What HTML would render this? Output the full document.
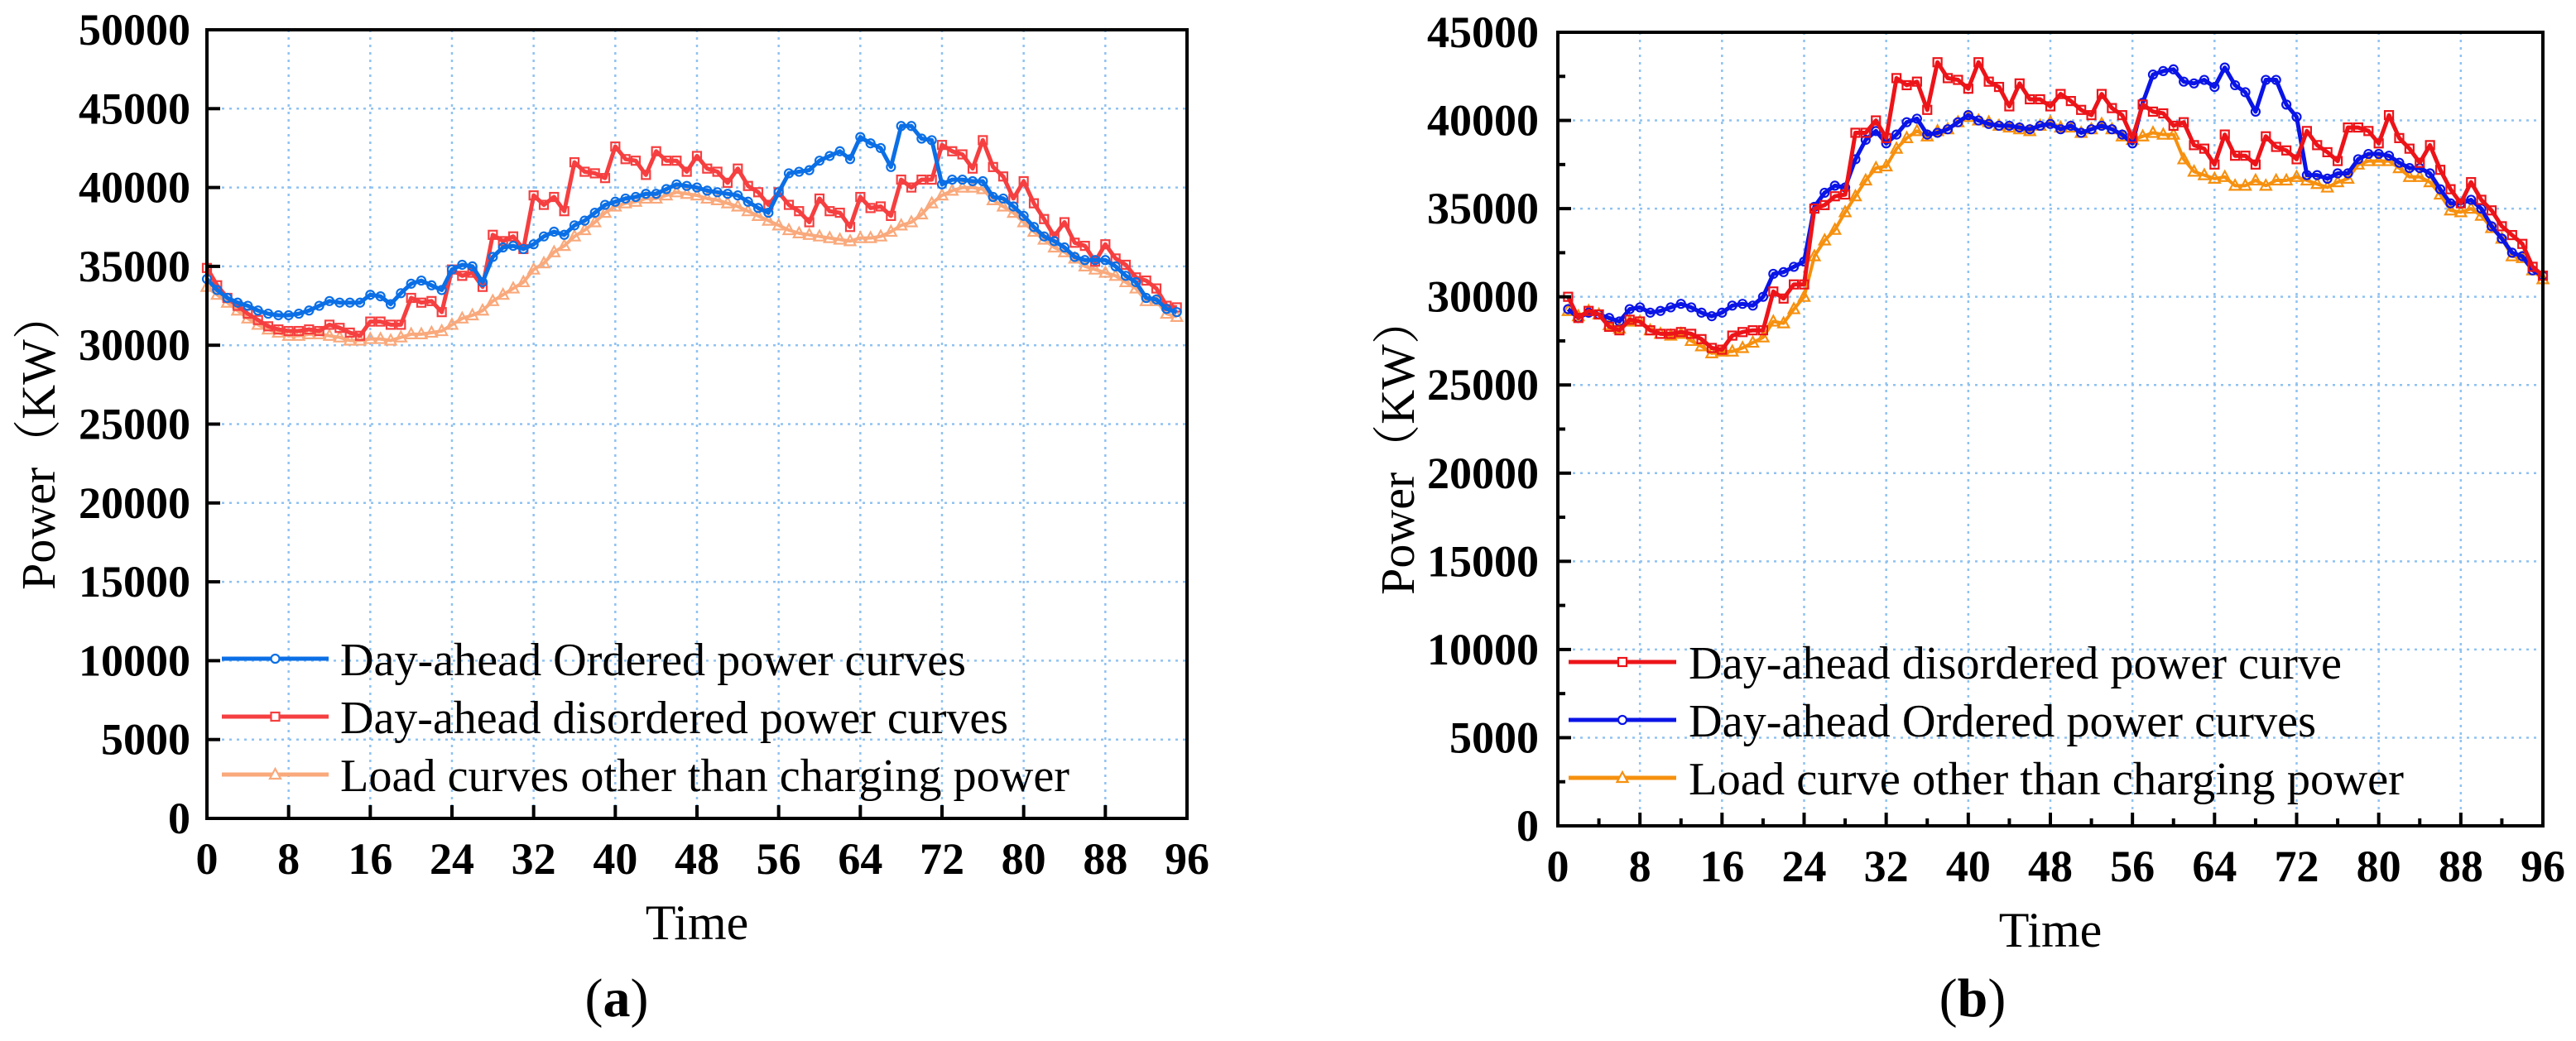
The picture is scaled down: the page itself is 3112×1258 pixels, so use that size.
<!DOCTYPE html>
<html><head><meta charset="utf-8"><style>
html,body{margin:0;padding:0;background:#fff;}
svg{display:block;}
text{font-family:"Liberation Serif","Noto Serif CJK SC",serif;fill:#000;}
</style></head>
<body>
<svg id="fig" width="3112" height="1258" viewBox="0 0 3112 1258" xmlns="http://www.w3.org/2000/svg"></svg>
<script>
const xTicks = [0,8,16,24,32,40,48,56,64,72,80,88,96];
const yTicksA = [0,5000,10000,15000,20000,25000,30000,35000,40000,45000,50000];
const yTicksB = [0,5000,10000,15000,20000,25000,30000,35000,40000,45000];
const aOrdered = [34200,33500,33000,32700,32500,32200,32000,31900,31900,32000,32200,32500,32800,32700,32700,32700,33200,33100,32600,33300,33900,34100,33800,33500,34800,35100,35000,34000,35600,36200,36300,36100,36400,36900,37200,37000,37600,37900,38400,38900,39100,39300,39400,39600,39600,39900,40200,40100,40000,39800,39700,39600,39500,39100,38700,38400,39700,40900,41000,41100,41700,42000,42300,41800,43200,42800,42500,41300,43900,43900,43100,43000,40200,40500,40500,40400,40400,39400,39300,38800,38200,37500,36900,36600,36200,35600,35400,35400,35400,35000,34400,34000,33000,32900,32300,32100];
const aDisordered = [34900,33800,33000,32500,32000,31600,31200,31000,30900,30900,31000,30900,31300,31100,30800,30600,31500,31500,31300,31300,33000,32700,32800,32100,34800,34400,34600,33700,37000,36600,36900,36100,39500,38900,39400,38500,41600,41000,40900,40600,42600,41800,41700,40800,42300,41700,41700,41000,42000,41200,41000,40300,41200,40100,39700,38900,39700,38900,38500,37800,39300,38500,38400,37500,39400,38700,38800,38200,40500,40000,40500,40500,42700,42300,42100,41200,43000,41300,40700,39300,40400,39000,38000,36900,37800,36500,36300,35300,36400,35500,35100,34300,34100,33600,32500,32400];
const aLoad = [33700,33200,32700,32200,31700,31300,31000,30800,30600,30600,30700,30700,30600,30500,30300,30300,30400,30400,30300,30500,30700,30700,30800,30900,31300,31700,31900,32200,32800,33200,33600,34000,34800,35200,35900,36300,36900,37300,37800,38400,38800,39000,39100,39300,39300,39500,39700,39600,39500,39300,39200,39000,38800,38500,38200,37900,37600,37300,37100,37000,36900,36800,36700,36600,36800,36800,36900,37200,37600,37800,38300,39000,39500,39800,40000,40000,39900,39200,38800,38400,37800,37200,36700,36200,35900,35500,35000,34800,34600,34400,34000,33600,32800,32800,32000,31800];
const bDisordered = [30000,28800,29200,29000,28300,28100,28700,28600,28100,27900,27900,28000,27900,27600,27100,27000,27800,28000,28100,28100,30300,29900,30700,30700,35000,35200,35700,35800,39300,39300,40000,39000,42400,42000,42200,40600,43300,42400,42300,41800,43300,42200,41900,40800,42100,41200,41200,40800,41500,41100,40600,40300,41500,40700,40300,39000,40900,40500,40400,39700,39900,38600,38400,37500,39200,38000,38000,37500,39100,38500,38300,37800,39400,38600,38200,37700,39600,39600,39400,38700,40300,39000,38400,37600,38600,37200,36100,35300,36500,35500,34900,34000,33500,33000,31700,31200];
const bOrdered = [29300,28800,29100,29000,28800,28600,29300,29400,29100,29200,29400,29600,29400,29100,28900,29100,29500,29600,29500,30000,31300,31400,31700,32000,35100,35900,36300,36200,37800,38900,39400,38700,39200,39900,40100,39200,39300,39500,39900,40300,40000,39800,39700,39700,39600,39500,39700,39800,39500,39700,39300,39500,39700,39500,39200,38700,41000,42600,42800,42900,42200,42100,42300,41900,43000,42000,41600,40500,42300,42300,40900,40200,36900,36900,36700,37000,37000,37800,38100,38100,38000,37600,37300,37300,37000,36100,35300,35300,35500,35000,34000,33300,32500,32300,31500,31200];
const bLoad = [29200,28900,29200,29000,28400,28200,28600,28600,28100,27900,27800,27900,27500,27200,26800,26900,26900,27100,27400,27700,28600,28500,29300,30000,32300,33200,33800,34800,35700,36600,37300,37400,38400,39000,39400,39100,39400,39500,39900,40200,40000,39900,39700,39600,39500,39400,39700,39900,39600,39600,39300,39500,39800,39500,39100,38900,39100,39300,39200,39200,37800,37100,36900,36700,36800,36300,36300,36600,36300,36600,36600,36800,36600,36400,36200,36500,36700,37500,37700,37700,37700,37300,36800,36800,36500,35800,34900,34800,35000,34600,33900,33300,32300,32200,31500,31000];

const NS='http://www.w3.org/2000/svg';
const svg=document.getElementById('fig');
function mk(tag,attrs,parent){const e=document.createElementNS(NS,tag);for(const k in attrs)e.setAttribute(k,attrs[k]);(parent||svg).appendChild(e);return e;}

function marker(g,type,cx,cy,color,fill){
  let m;
  if(type==='circle'){m=mk('circle',{cx:cx,cy:cy,r:5,fill:fill,stroke:color,'stroke-width':2.2},g);}
  else if(type==='square'){m=mk('rect',{x:cx-5,y:cy-5,width:10,height:10,fill:fill,stroke:color,'stroke-width':2.2},g);}
  else {m=mk('polygon',{points:(cx)+','+(cy-7)+' '+(cx-6.5)+','+(cy+5)+' '+(cx+6.5)+','+(cy+5),fill:fill,stroke:color,'stroke-width':2.2},g);}
  return m;
}

function chart(cfg){
  const g=mk('g',{});
  
  
  const L=cfg.L,R=cfg.R,T=cfg.T,B=cfg.B;
  const xs=v=>L+(v-0)/(96-0)*(R-L);
  const ys=v=>B-(v-0)/(cfg.ymax)*(B-T);
  // grid
  const grid=mk('g',{},g);
  
  
  xTicks.forEach(t=>{if(t>0&&t<96){const l=mk('line',{x1:xs(t),x2:xs(t),y1:T,y2:B,stroke:'#8fc2f2','stroke-width':2.5,'stroke-dasharray':'3 6'},grid);}});
  cfg.yTicks.forEach(t=>{if(t>0&&t<cfg.ymax){const l=mk('line',{x1:L,x2:R,y1:ys(t),y2:ys(t),stroke:'#8fc2f2','stroke-width':2.5,'stroke-dasharray':'3 6'},grid);}});
  // series
  cfg.series.forEach(s=>{
    const sg=mk('g',{},g);
    
    
    const pts=s.data.map((v,i)=>xs(cfg.x0+i).toFixed(1)+','+ys(v).toFixed(1)).join(' ');
    mk('polyline',{points:pts,fill:'none',stroke:s.color,'stroke-width':s.w,'stroke-linejoin':'round'},sg);
    s.data.forEach((v,i)=>{const m=marker(sg,s.marker,xs(cfg.x0+i),ys(v),s.color,'none');});
  });
  // frame
  const fr=mk('rect',{x:L,y:T,width:R-L,height:B-T,fill:'none',stroke:'#000','stroke-width':4},g);
  
  // ticks
  xTicks.forEach(t=>{
    const tk=mk('line',{x1:xs(t),x2:xs(t),y1:B,y2:B-16,stroke:'#000','stroke-width':4},g);
    
    const tx=mk('text',{x:xs(t),y:B+67,'font-size':54,'font-weight':'bold','text-anchor':'middle'},g);
    tx.textContent=t;
  });
  cfg.yTicks.forEach(t=>{
    const tk=mk('line',{x1:L,x2:L+16,y1:ys(t),y2:ys(t),stroke:'#000','stroke-width':4},g);
    
    const tx=mk('text',{x:cfg.ylabRight,y:ys(t)+18,'font-size':54,'font-weight':'bold','text-anchor':'end'},g);
    tx.textContent=t;
  });
  if(cfg.minor){
    for(let t=4;t<96;t+=8){const tk=mk('line',{x1:xs(t),x2:xs(t),y1:B,y2:B-9,stroke:'#000','stroke-width':4},g);}
    for(let t=2500;t<cfg.ymax;t+=5000){const tk=mk('line',{x1:L,x2:L+9,y1:ys(t),y2:ys(t),stroke:'#000','stroke-width':4},g);}
  }
  // titles
  const xt=mk('text',{x:(L+R)/2,y:B+146,'font-size':60,'text-anchor':'middle'},g);
  xt.textContent='Time';
  const yt=mk('text',{x:0,y:0,'font-size':58,'text-anchor':'middle',transform:'translate('+cfg.ytitleX+','+((T+B)/2+20)+') rotate(-90)'},g);
  yt.textContent='Power（KW）';
  const cap=mk('text',{x:cfg.capX,y:1228,'font-size':66,'text-anchor':'middle'},g);
  cap.innerHTML='(<tspan font-weight="bold">'+cfg.cap+'</tspan>)';
  
  // legend
  const lg=mk('g',{},g);
  
  cfg.legend.forEach((e,i)=>{
    const eg=mk('g',{},lg);
    
    const y=cfg.legY[i];
    mk('line',{x1:cfg.legX1,x2:cfg.legX2,y1:y,y2:y,stroke:e.color,'stroke-width':5},eg);
    marker(eg,e.marker,(cfg.legX1+cfg.legX2)/2,y,e.color,'#fff');
    const t=mk('text',{x:cfg.legTX,y:y+20,'font-size':56,textLength:e.len,lengthAdjust:'spacingAndGlyphs'},eg);
    t.textContent=e.label;
  });
}

chart({name:'chart-a',L:250,R:1434,T:36,B:989,ymax:50000,yTicks:yTicksA,x0:0,ylabRight:230,ytitleX:66,capX:745,cap:'a',minor:false,
  series:[
    {name:'series-load-a',data:aLoad,color:'#f9a97c',marker:'tri',w:4},
    {name:'series-disordered-a',data:aDisordered,color:'#f53f40',marker:'square',w:5},
    {name:'series-ordered-a',data:aOrdered,color:'#0b6fe6',marker:'circle',w:5}],
  legX1:268,legX2:397,legTX:411,legY:[796,866,936],
  legend:[
    {label:'Day-ahead Ordered power curves',color:'#0b6fe6',marker:'circle',len:756},
    {label:'Day-ahead disordered power curves',color:'#f53f40',marker:'square',len:807},
    {label:'Load curves other than charging power',color:'#f9a97c',marker:'tri',len:881}]
});
chart({name:'chart-b',L:1882,R:3072,T:39,B:998,ymax:45000,yTicks:yTicksB,x0:1,ylabRight:1859,ytitleX:1708,capX:2383,cap:'b',minor:true,
  series:[
    {name:'series-load-b',data:bLoad,color:'#f6900e',marker:'tri',w:4},
    {name:'series-ordered-b',data:bOrdered,color:'#0a14e6',marker:'circle',w:5},
    {name:'series-disordered-b',data:bDisordered,color:'#ec1419',marker:'square',w:5}],
  legX1:1895,legX2:2025,legTX:2040,legY:[800,870,940],
  legend:[
    {label:'Day-ahead disordered power curve',color:'#ec1419',marker:'square',len:789},
    {label:'Day-ahead Ordered power curves',color:'#0a14e6',marker:'circle',len:758},
    {label:'Load curve other than charging power',color:'#f6900e',marker:'tri',len:864}]
});
</script>
</body></html>
